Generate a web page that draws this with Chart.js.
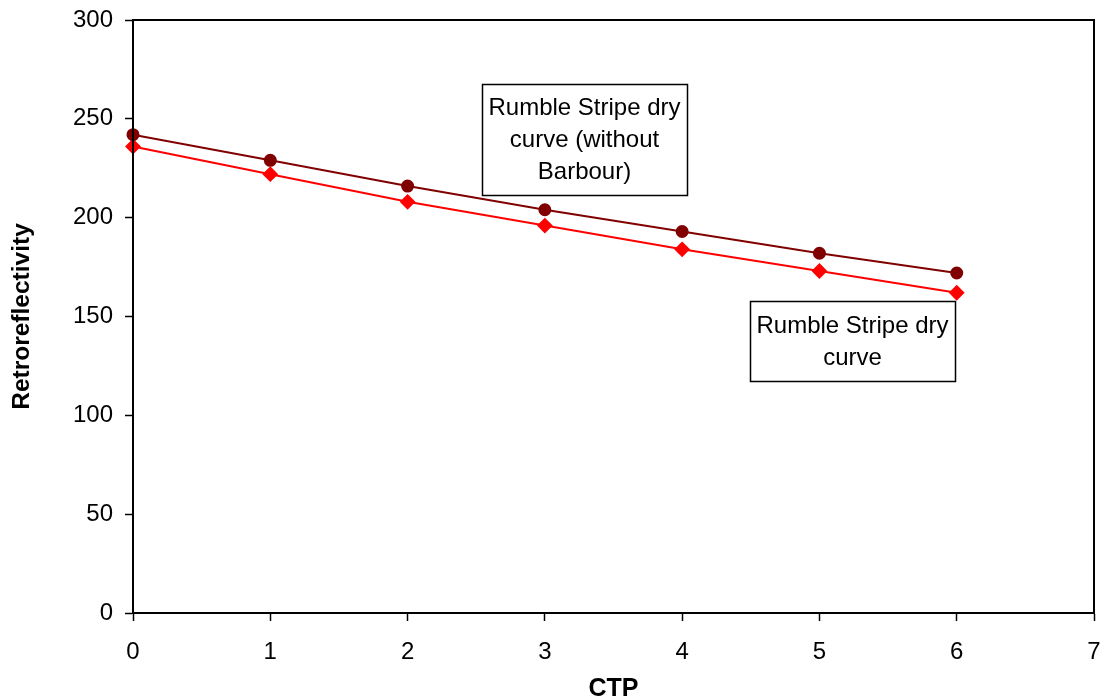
<!DOCTYPE html>
<html>
<head>
<meta charset="utf-8">
<title>Retroreflectivity vs CTP</title>
<script src="https://cdn.jsdelivr.net/npm/chart.js@4"></script>
<style>
  html, body { margin: 0; padding: 0; background: #fff; }
  #wrap { width: 1104px; height: 698px; }
</style>
</head>
<body>
<div id="wrap"><canvas id="canvas1" width="1104" height="698"></canvas></div>
<script>
// CTP values on the x axis
const ctp = [0, 1, 2, 3, 4, 5, 6];
// retroreflectivity readings
const dryNoBarbour = [242, 229, 216, 204, 193, 182, 172];
const dryCurve = [236, 222, 208, 196, 184, 173, 162];

// text boxes, top-left corner given in data units
const notes = [
    { lines: ['Rumble Stripe dry', 'curve (without', 'Barbour)'], x: 2.542, y: 267.6, w: 205, h: 111 },
    { lines: ['Rumble Stripe dry', 'curve'], x: 4.494, y: 157.8, w: 205, h: 80 }
];

function points(ys) {
    return ctp.map((x, i) => ({ x: x, y: ys[i] }));
}

const fontFamily = 'Arial, "Liberation Sans", sans-serif';

// frame around the plot area and the two note boxes
const boxPlugin = {
    id: 'boxes',
    afterDatasetsDraw(chart) {
        const ctx = chart.ctx;
        const a = chart.chartArea;
        const sx = chart.scales.x, sy = chart.scales.y;
        ctx.save();
        ctx.strokeStyle = '#000';
        ctx.lineWidth = 2;
        ctx.strokeRect(a.left, a.top, a.right - a.left, a.bottom - a.top);

        ctx.font = '24px ' + fontFamily;
        ctx.textAlign = 'center';
        ctx.textBaseline = 'middle';
        notes.forEach(n => {
            const px = Math.round(sx.getPixelForValue(n.x));
            const py = Math.round(sy.getPixelForValue(n.y));
            ctx.fillStyle = '#fff';
            ctx.fillRect(px, py, n.w, n.h);
            ctx.lineWidth = 1.5;
            ctx.strokeRect(px + 0.5, py + 0.5, n.w, n.h);
            ctx.fillStyle = '#000';
            const lh = 32;
            const start = py + n.h / 2 - (n.lines.length - 1) * lh / 2 + 1;
            n.lines.forEach((t, i) => ctx.fillText(t, px + n.w / 2, start + i * lh));
        });
        ctx.restore();
    }
};

const config = {
    type: 'line',
    data: {
        datasets: [{
            label: 'Rumble Stripe dry curve (without Barbour)',
            data: points(dryNoBarbour),
            borderColor: '#800000',
            backgroundColor: '#800000',
            borderWidth: 2,
            pointStyle: 'circle',
            pointRadius: 5.5,
            pointHoverRadius: 5.5,
            clip: false
        }, {
            label: 'Rumble Stripe dry curve',
            data: points(dryCurve),
            borderColor: '#ff0000',
            backgroundColor: '#ff0000',
            borderWidth: 2,
            pointStyle: 'rectRot',
            pointRadius: 6.5,
            pointHoverRadius: 6.5,
            clip: false
        }]
    },
    options: {
        responsive: false,
        animation: false,
        events: [],
        layout: { padding: { left: 0, right: 10, top: 20, bottom: 0 } },
        plugins: {
            legend: { display: false },
            tooltip: { enabled: false }
        },
        scales: {
            x: {
                type: 'linear',
                min: 0,
                max: 7,
                afterFit(scale) {
                    scale.height = 85;
                    scale.paddingLeft = 0;
                    scale.paddingRight = 0;
                },
                ticks: {
                    stepSize: 1,
                    color: '#000',
                    padding: 17,
                    font: { family: fontFamily, size: 24 }
                },
                grid: { drawOnChartArea: false, tickLength: 8, color: '#000', tickWidth: 1.5 },
                border: { color: '#000', width: 2 },
                title: {
                    display: true,
                    text: 'CTP',
                    color: '#000',
                    padding: { top: 0, bottom: -4 },
                    font: { family: fontFamily, size: 25, weight: 'bold', lineHeight: 1 }
                }
            },
            y: {
                min: 0,
                max: 300,
                afterFit(scale) {
                    scale.width = 133;
                    scale.paddingTop = 0;
                    scale.paddingBottom = 0;
                },
                ticks: {
                    stepSize: 50,
                    color: '#000',
                    padding: 12,
                    font: { family: fontFamily, size: 24 }
                },
                grid: { drawOnChartArea: false, tickLength: 8, color: '#000', tickWidth: 1.5 },
                border: { color: '#000', width: 2 },
                title: {
                    display: true,
                    text: 'Retroreflectivity',
                    color: '#000',
                    padding: { top: 8, bottom: 0 },
                    font: { family: fontFamily, size: 24.5, weight: 'bold' }
                }
            }
        }
    },
    plugins: [boxPlugin]
};

const chart = new Chart(document.getElementById('canvas1'), config);
</script>
</body>
</html>
